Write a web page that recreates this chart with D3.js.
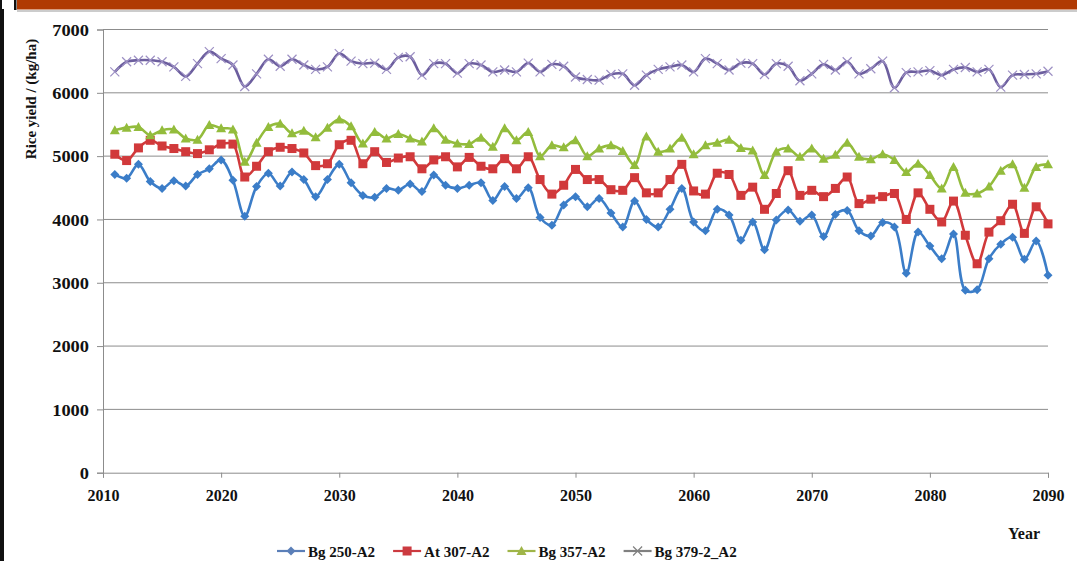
<!DOCTYPE html>
<html>
<head>
<meta charset="utf-8">
<script src="https://cdn.jsdelivr.net/npm/d3@7"></script>
<style>
  html, body { margin: 0; padding: 0; background: #fff; }
  svg { display: block; }
  .tick-label { font-family: "Liberation Serif", "DejaVu Serif", serif; font-weight: bold; fill: #111; }
</style>
</head>
<body>
<div id="chart"></div>
<script>
const WIDTH = 1077;
const HEIGHT = 561;
const MARGIN = { top: 29.5, right: 29, bottom: 88.3, left: 103 };

const years = d3.range(2011, 2091);
const yTicks = [0, 1000, 2000, 3000, 4000, 5000, 6000, 7000];
const xTicks = [2010, 2020, 2030, 2040, 2050, 2060, 2070, 2080, 2090];

const bg250 = [
  4710, 4650, 4870, 4600, 4490, 4610, 4530, 4710, 4800, 4940,
  4620, 4050, 4520, 4730, 4530, 4750, 4630, 4360, 4630, 4870,
  4580, 4380, 4350, 4490, 4460, 4560, 4440, 4700, 4540, 4490,
  4540, 4580, 4300, 4520, 4330, 4500, 4030, 3910, 4230, 4360,
  4200, 4330, 4100, 3880, 4290, 4000, 3880, 4160, 4490, 3960,
  3820, 4160, 4070, 3670, 3960, 3520, 3990, 4150, 3970, 4070,
  3730, 4080, 4140, 3820, 3740, 3950, 3880, 3150, 3800, 3580,
  3380, 3770, 2880, 2890, 3380, 3610, 3720, 3370, 3660, 3120
];
const at307 = [
  5030, 4930, 5130, 5250, 5160, 5120, 5070, 5040, 5100, 5190,
  5190, 4670, 4840, 5070, 5140, 5120, 5050, 4850, 4880, 5180,
  5250, 4880, 5070, 4900, 4970, 4990, 4800, 4940, 4990, 4830,
  4980, 4840, 4800, 4960, 4800, 4990, 4630, 4400, 4540, 4790,
  4630, 4630, 4470, 4460, 4660, 4420, 4420, 4630, 4870, 4450,
  4400, 4730, 4710, 4380, 4510, 4160, 4410, 4770, 4380, 4460,
  4360, 4490, 4670, 4250, 4320, 4360, 4410, 4000, 4420, 4160,
  3960, 4290, 3750, 3300, 3800, 3980, 4240, 3780, 4200, 3930
];
const bg357 = [
  5410, 5450, 5460, 5330, 5410, 5420, 5280, 5260, 5490, 5440,
  5420, 4910, 5210, 5460, 5510, 5360, 5400, 5300, 5450, 5580,
  5470, 5200, 5380, 5280, 5350, 5280, 5230, 5440, 5260, 5200,
  5190, 5290, 5150, 5440, 5250, 5380, 5000, 5170, 5140, 5250,
  5000, 5120, 5170, 5080, 4860, 5310, 5070, 5120, 5290, 5030,
  5170, 5210, 5260, 5130, 5090, 4700, 5070, 5120, 4990, 5120,
  4960, 5020, 5210, 4990, 4950, 5030, 4940, 4750, 4880, 4700,
  4490, 4830, 4420, 4410, 4520, 4770, 4870, 4500, 4830, 4870
];
const bg379 = [
  6330, 6490, 6515, 6515, 6490, 6410, 6260, 6460, 6650, 6540,
  6440, 6100, 6300, 6530, 6420, 6530, 6440, 6370, 6410, 6620,
  6500, 6460, 6470, 6370, 6560, 6570, 6280, 6460, 6460, 6310,
  6460, 6440, 6330, 6360, 6330, 6470, 6330, 6450, 6420, 6250,
  6210, 6200, 6290, 6300, 6120, 6280, 6370, 6410, 6440, 6330,
  6540, 6460, 6360, 6470, 6460, 6290, 6460, 6420, 6190, 6300,
  6450, 6360, 6490, 6300, 6380, 6500, 6080, 6320, 6330, 6350,
  6280, 6370, 6400, 6330, 6370, 6090, 6280, 6290, 6300, 6340
];

const seriesNames = ["Bg 250-A2", "At 307-A2", "Bg 357-A2", "Bg 379-2_A2"];
const seriesValues = [bg250, at307, bg357, bg379];
const seriesColors = ["#3b7dc8", "#d1393b", "#93bc3c", "#6c5e9e"];
const markerColors = ["#3b7dc8", "#d1393b", "#93bc3c", "#9d90c4"];
const markerTypes = ["diamond", "square", "triangle", "cross"];

const svg = d3.select("#chart")
  .append("svg")
  .attr("width", WIDTH)
  .attr("height", HEIGHT);

// page frame around the chart
svg.append("rect").attr("x", 0).attr("y", 0).attr("width", WIDTH).attr("height", HEIGHT).attr("fill", "#fff");
svg.append("rect").attr("x", 17).attr("y", 0).attr("width", WIDTH - 17).attr("height", 9.5).attr("fill", "#b03a03");
svg.append("rect").attr("x", 14).attr("y", 0).attr("width", 2.5).attr("height", 10).attr("fill", "#111");
svg.append("rect").attr("x", 0).attr("y", 9).attr("width", 4).attr("height", HEIGHT - 9).attr("fill", "#111");
svg.append("rect").attr("x", 0).attr("y", 0).attr("width", 2).attr("height", 10).attr("fill", "#111");
svg.append("line")
  .attr("x1", 17).attr("x2", WIDTH).attr("y1", 11).attr("y2", 11)
  .attr("stroke", "#999").attr("stroke-width", 1);

const x = d3.scaleLinear().domain([2010, 2090]).range([MARGIN.left, WIDTH - MARGIN.right]);
const y = d3.scaleLinear().domain([0, 7000]).range([HEIGHT - MARGIN.bottom, MARGIN.top]);

const plotBottom = y(0);

// gridlines
svg.append("g")
  .selectAll("line")
  .data(yTicks.filter((d) => d > 0))
  .join("line")
  .attr("x1", x(2010))
  .attr("x2", x(2090))
  .attr("y1", (d) => y(d))
  .attr("y2", (d) => y(d))
  .attr("stroke", "#8c8c8c")
  .attr("stroke-width", 1);

// axes
const yAxis = d3.axisLeft(y).tickValues(yTicks).tickSize(6).tickPadding(8).tickFormat(d3.format("d"));
const yAxisG = svg.append("g").attr("transform", `translate(${x(2010)},0)`).call(yAxis);
yAxisG.select(".domain").attr("stroke", "#8c8c8c");
yAxisG.selectAll(".tick line").attr("stroke", "#8c8c8c");
yAxisG.selectAll(".tick text")
  .attr("class", "tick-label")
  .attr("font-size", 16)
  .attr("dy", "0.36em")
  .attr("textLength", (d) => String(d).length * 9.2)
  .attr("lengthAdjust", "spacingAndGlyphs");

const xAxis = d3.axisBottom(x).tickValues(xTicks).tickSize(5).tickPadding(12).tickFormat(d3.format("d"));
const xAxisG = svg.append("g").attr("transform", `translate(0,${plotBottom})`).call(xAxis);
xAxisG.select(".domain").attr("stroke", "#8c8c8c");
xAxisG.selectAll(".tick line").attr("stroke", "#8c8c8c");
xAxisG.selectAll(".tick text")
  .attr("class", "tick-label")
  .attr("font-size", 16);

// axis titles
svg.append("text")
  .attr("class", "tick-label")
  .attr("transform", "translate(36,99) rotate(-90)")
  .attr("text-anchor", "middle")
  .attr("font-size", 15)
  .text("Rice yield / (kg/ha)");

svg.append("text")
  .attr("class", "tick-label")
  .attr("x", 1024)
  .attr("y", 539)
  .attr("text-anchor", "middle")
  .attr("font-size", 16)
  .text("Year");

// series
const line = d3.line()
  .x((d) => x(d.year))
  .y((d) => y(d.value))
  .curve(d3.curveCatmullRom.alpha(0.5));

function drawMarker(g, type, color) {
  if (type === "diamond") {
    g.append("path").attr("d", "M0,-4.5L4.5,0L0,4.5L-4.5,0Z").attr("fill", color);
  } else if (type === "square") {
    g.append("rect").attr("x", -4.5).attr("y", -4.5).attr("width", 9).attr("height", 9).attr("fill", color);
  } else if (type === "triangle") {
    g.append("path").attr("d", "M0,-5L5,4L-5,4Z").attr("fill", color);
  } else {
    g.append("path").attr("d", "M-4.5,-4.5L4.5,4.5M-4.5,4.5L4.5,-4.5")
      .attr("stroke", color).attr("stroke-width", 1.2).attr("fill", "none");
  }
}

seriesValues.forEach((values, i) => {
  const points = years.map((year, j) => ({ year, value: values[j] }));
  const group = svg.append("g").attr("class", "series");

  group.append("path")
    .datum(points)
    .attr("d", line)
    .attr("fill", "none")
    .attr("stroke", seriesColors[i])
    .attr("stroke-width", 2.6);

  group.selectAll("g.marker")
    .data(points)
    .join("g")
    .attr("class", "marker")
    .attr("transform", (d) => `translate(${x(d.year)},${y(d.value)})`)
    .each(function () {
      drawMarker(d3.select(this), markerTypes[i], markerColors[i]);
    });
});

// legend (kept just inside the bottom edge)
const legendColors = ["#5b7fb8", "#cc3a40", "#9fb548", "#808080"];
const legend = svg.append("g").attr("transform", "translate(277,551)");
let offset = 0;
seriesNames.forEach((name, i) => {
  const item = legend.append("g").attr("transform", `translate(${offset},0)`);
  item.append("line")
    .attr("x1", 0).attr("x2", 28).attr("y1", 0).attr("y2", 0)
    .attr("stroke", legendColors[i]).attr("stroke-width", 2.2);
  const m = item.append("g").attr("transform", "translate(14,0)");
  drawMarker(m, markerTypes[i], legendColors[i]);
  const label = item.append("text")
    .attr("class", "tick-label")
    .attr("x", 31)
    .attr("y", 5.5)
    .attr("font-size", 15)
    .text(name);
  offset += 31 + label.node().getComputedTextLength() + 18;
});
</script>
</body>
</html>
